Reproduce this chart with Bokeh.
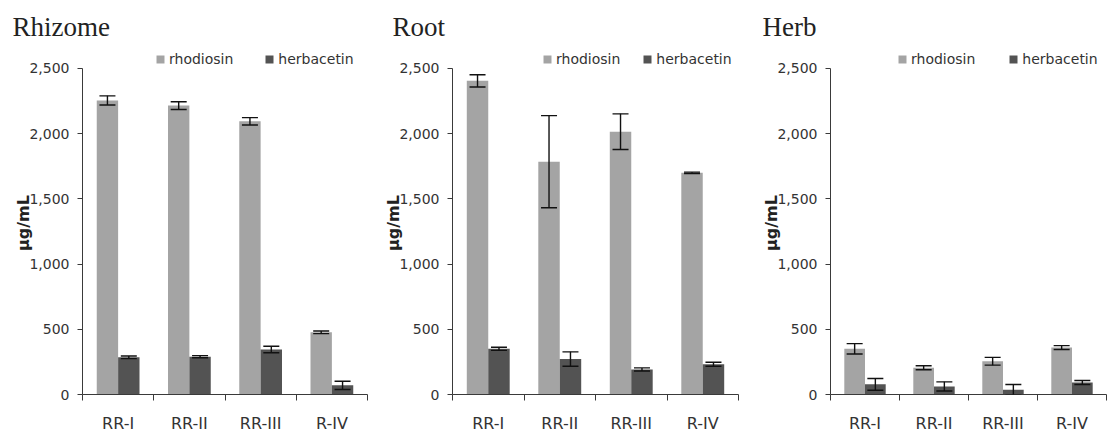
from bokeh.plotting import figure
from bokeh.layouts import row
from bokeh.models import (ColumnDataSource, Range1d, FixedTicker, NumeralTickFormatter,
                          Whisker, TeeHead, Legend, LegendItem, Title)
from bokeh.embed import file_html
from bokeh.resources import INLINE

# ---------------- data ----------------
categories = ["RR-I", "RR-II", "RR-III", "R-IV"]
series_names = ["rhodiosin", "herbacetin"]
panel_titles = ["Rhizome", "Root", "Herb"]
y_ticks = [0, 500, 1000, 1500, 2000, 2500]

rhizome_rhodiosin = [2255, 2215, 2095, 477]
rhizome_rhodiosin_err = [35, 30, 28, 10]
rhizome_herbacetin = [285, 290, 345, 70]
rhizome_herbacetin_err = [10, 8, 25, 32]

root_rhodiosin = [2405, 1785, 2015, 1700]
root_rhodiosin_err = [47, 353, 137, 5]
root_herbacetin = [350, 272, 192, 232]
root_herbacetin_err = [12, 55, 12, 15]

herb_rhodiosin = [350, 205, 255, 360]
herb_rhodiosin_err = [40, 15, 30, 15]
herb_herbacetin = [78, 62, 37, 92]
herb_herbacetin_err = [45, 35, 40, 15]

# ---------------- style ----------------
COL_RHO = "#a4a4a4"
COL_HER = "#535353"
AXIS_COL = "#3a3a3a"
TEXT_COL = "#333333"
SANS = "DejaVu Sans"
SERIF = "Liberation Serif"

Y_MAX = 2500
Y_END = 2630   # headroom above the axis for the legend
H = 435
BAR_W = 0.3
ZERO_Y = 399
H_AXIS = 332
FRAME_H = round(H_AXIS * Y_END / Y_MAX)
TOP_BORDER = ZERO_Y - FRAME_H

panels = [
    dict(title=panel_titles[0], rho=rhizome_rhodiosin, rho_e=rhizome_rhodiosin_err,
         her=rhizome_herbacetin, her_e=rhizome_herbacetin_err,
         width=375, left=82, right=8, title_off=-70, leg_x=73, leg_sp=31),
    dict(title=panel_titles[1], rho=root_rhodiosin, rho_e=root_rhodiosin_err,
         her=root_herbacetin, her_e=root_herbacetin_err,
         width=375, left=77, right=12, title_off=-60, leg_x=90, leg_sp=22),
    dict(title=panel_titles[2], rho=herb_rhodiosin, rho_e=herb_rhodiosin_err,
         her=herb_herbacetin, her_e=herb_herbacetin_err,
         width=358, left=80, right=2, title_off=-68, leg_x=67, leg_sp=33),
]

figs = []
for cfg in panels:
    n = len(categories)
    centers = [i + 0.5 for i in range(n)]
    p = figure(width=cfg["width"], height=H, x_range=Range1d(0, n), y_range=Range1d(0, Y_END),
               output_backend="svg", toolbar_location=None,
               min_border_left=cfg["left"], min_border_right=cfg["right"],
               min_border_top=TOP_BORDER, min_border_bottom=H - ZERO_Y)
    p.outline_line_color = None
    p.xgrid.grid_line_color = None
    p.ygrid.grid_line_color = None
    p.background_fill_color = "white"
    p.border_fill_color = "white"

    src_rho = ColumnDataSource(dict(
        x=[c - BAR_W / 2 for c in centers], top=cfg["rho"],
        upper=[v + e for v, e in zip(cfg["rho"], cfg["rho_e"])],
        lower=[v - e for v, e in zip(cfg["rho"], cfg["rho_e"])]))
    src_her = ColumnDataSource(dict(
        x=[c + BAR_W / 2 for c in centers], top=cfg["her"],
        upper=[v + e for v, e in zip(cfg["her"], cfg["her_e"])],
        lower=[v - e for v, e in zip(cfg["her"], cfg["her_e"])]))

    r1 = p.vbar(x="x", top="top", bottom=0, width=BAR_W, source=src_rho,
                fill_color=COL_RHO, line_color=None)
    r2 = p.vbar(x="x", top="top", bottom=0, width=BAR_W, source=src_her,
                fill_color=COL_HER, line_color=None)

    for src in (src_rho, src_her):
        w = Whisker(source=src, base="x", upper="upper", lower="lower",
                    line_color="#111111", line_width=1.4, level="overlay",
                    upper_head=TeeHead(size=16, line_color="#111111", line_width=1.4),
                    lower_head=TeeHead(size=16, line_color="#111111", line_width=1.4))
        p.add_layout(w)

    # x axis
    xa = p.xaxis[0]
    xa.ticker = FixedTicker(ticks=centers, minor_ticks=list(range(n + 1)))
    xa.major_label_overrides = {c: lab for c, lab in zip(centers, categories)}
    xa.major_tick_line_color = None
    xa.major_tick_out = 0
    xa.major_tick_in = 0
    xa.minor_tick_out = 6
    xa.minor_tick_in = 0
    xa.minor_tick_line_color = AXIS_COL
    xa.axis_line_color = AXIS_COL
    xa.major_label_text_font = SANS
    xa.major_label_text_font_size = "16px"
    xa.major_label_text_color = TEXT_COL
    xa.major_label_standoff = 13

    # y axis
    ya = p.yaxis[0]
    ya.ticker = FixedTicker(ticks=y_ticks)
    ya.bounds = (0, Y_MAX)
    ya.formatter = NumeralTickFormatter(format="0,0")
    ya.axis_line_color = AXIS_COL
    ya.major_tick_line_color = AXIS_COL
    ya.major_tick_out = 5
    ya.major_tick_in = 0
    ya.minor_tick_line_color = None
    ya.major_label_text_font = SANS
    ya.major_label_text_font_size = "14px"
    ya.major_label_text_color = TEXT_COL
    ya.major_label_standoff = 8
    ya.axis_label = "µg/mL"
    ya.axis_label_text_font = SANS
    ya.axis_label_text_font_size = "16px"
    ya.axis_label_text_font_style = "bold"
    ya.axis_label_text_color = "#222222"
    ya.axis_label_standoff = -7

    # legend inside the frame, in the headroom at the top
    leg = Legend(items=[LegendItem(label=series_names[0], renderers=[r1]),
                        LegendItem(label=series_names[1], renderers=[r2])],
                 orientation="horizontal", location=(cfg["leg_x"], FRAME_H - 22),
                 glyph_width=10, glyph_height=10, label_height=14, label_standoff=4,
                 spacing=cfg["leg_sp"], padding=0, margin=0,
                 label_text_font=SANS, label_text_font_size="14px",
                 label_text_color=TEXT_COL, border_line_color=None,
                 background_fill_alpha=0)
    p.add_layout(leg)

    # title
    t = Title(text=cfg["title"], align="left", offset=cfg["title_off"], standoff=19,
              text_font=SERIF, text_font_size="27px", text_font_style="normal",
              text_color="#222222")
    p.add_layout(t, "above")
    figs.append(p)

layout = row(*figs, spacing=0)
open("out.html", "w").write(file_html(layout, INLINE))
